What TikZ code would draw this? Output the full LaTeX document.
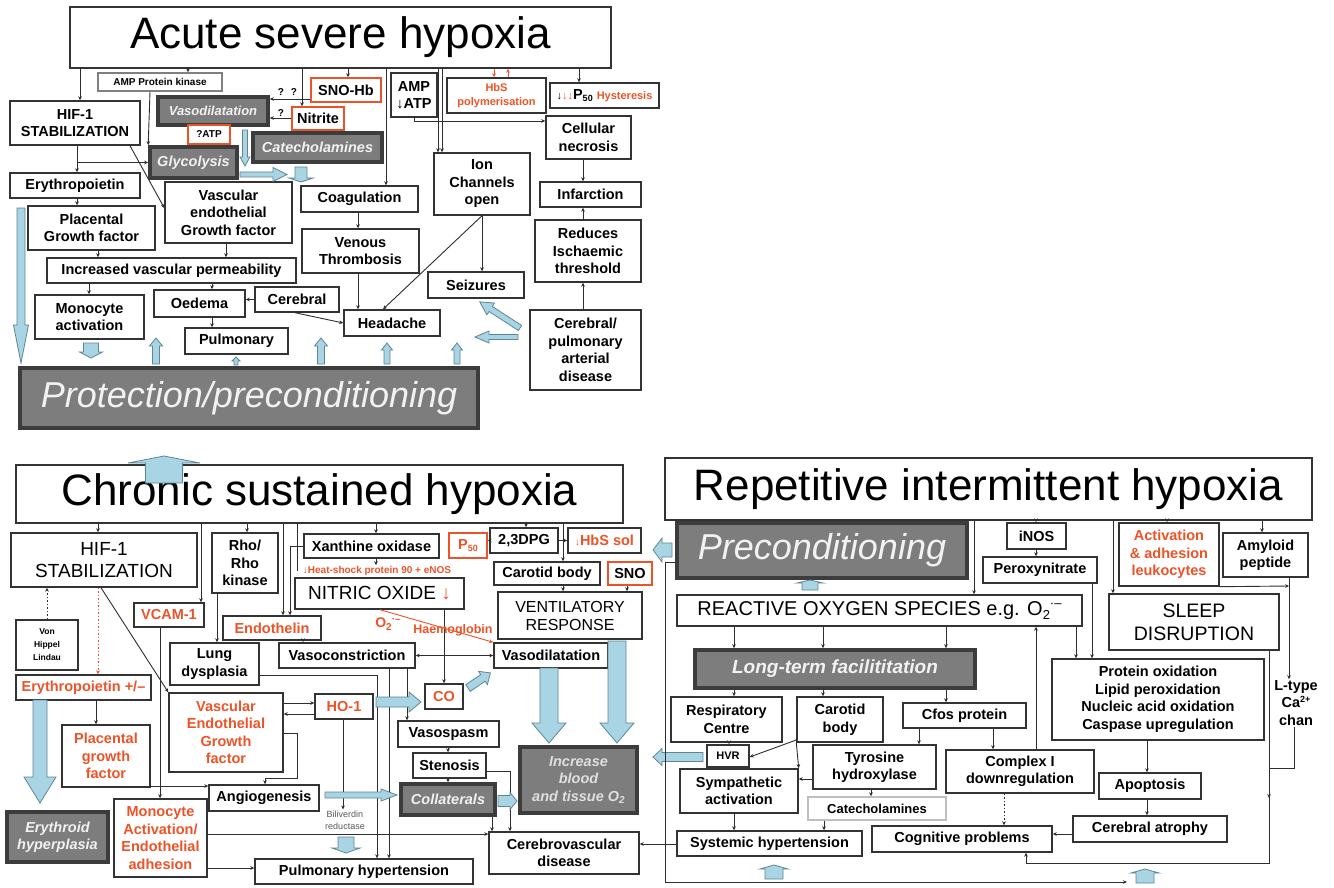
\documentclass[tikz,border=0pt]{standalone}
\usepackage{fontspec}
\setmainfont{Liberation Sans}
\usetikzlibrary{arrows.meta}

\definecolor{linec}{HTML}{2E2E2E}
\definecolor{edgec}{HTML}{333333}
\definecolor{hred}{HTML}{EC5428}
\definecolor{gfill}{HTML}{7D7D7D}
\definecolor{gedge}{HTML}{3C3C3C}
\definecolor{gtext}{HTML}{F2F2F2}
\definecolor{skyf}{HTML}{A9D4E3}
\definecolor{skye}{HTML}{5E8794}

\newcommand{\lowtxt}[2]{\raisebox{-0.35ex}{\fontsize{#1}{#1}\selectfont #2}}
\newcommand{\hightxt}[2]{\raisebox{0.75ex}{\fontsize{#1}{#1}\selectfont #2}}

\tikzset{
  spanbox/.style args={#1/#2/#3/#4}{minimum width={#3-#1}, minimum height={#4-#2}, at={({(#1+#3)/2},{(#2+#4)/2})}},
  box/.style={draw=edgec, line width=1.4pt, fill=white, inner sep=0pt, align=center, text=black, font=\bfseries\fontsize{14.5}{17.5}\selectfont},
  rbox/.style={box, draw=hred},
  redtext/.style={text=hred},
  gbox/.style={box, draw=gedge, line width=3.6pt, fill=gfill, text=gtext, font=\bfseries\itshape\fontsize{14.5}{17.5}\selectfont},
  titlefont/.style={font=\fontsize{44}{48}\selectfont},
  capsfont/.style={font=\fontsize{19}{22}\selectfont},
  tinyfont/.style={font=\bfseries\fontsize{10}{12}\selectfont},
  conn/.style={draw=linec, line width=0.9pt, -{Stealth[length=4pt,width=3.6pt]}},
  rconn/.style={conn, draw=hred},
  dotconn/.style={conn, dash pattern=on 1.5pt off 2pt},
  rdotconn/.style={dotconn, draw=hred},
  plainline/.style={draw=linec, line width=0.9pt},
  pics/barrow/.style n args={4}{code={
    \filldraw[fill=skyf, draw=skye, line width=0.8pt] (0,-#2) -- (#1-#4,-#2) -- (#1-#4,-#3) -- (#1,0) -- (#1-#4,#3) -- (#1-#4,#2) -- (0,#2) -- cycle;}},
}

\begin{document}
\begin{tikzpicture}[x=1pt,y=-1pt]
\fill[white] (0,0) rectangle (1334,888);
\useasboundingbox (0,0) rectangle (1334,888);

\node[box, titlefont, spanbox=70/7/611/68] (acute) {Acute severe hypoxia};
\node[box, tinyfont, draw=gray, spanbox=98/73/222/91] (ampk) {AMP Protein kinase};
\node[box, spanbox=10/101/140/145] (hifa) {HIF-1\\STABILIZATION};
\node[gbox, font=\bfseries\itshape\fontsize{13}{15}\selectfont, spanbox=158/97/268/125] (vasoa) {Vasodilatation};
\node[rbox, spanbox=311/78/381/102] (snohb) {SNO-Hb};
\node[rbox, spanbox=292/107/344/130] (nitrite) {Nitrite};
\node[rbox, tinyfont, spanbox=188/125/230/144] (atpq) {?ATP};
\node[gbox, spanbox=253/133/382/162] (catea) {Catecholamines};
\node[gbox, spanbox=150/147/237/178] (glyco) {Glycolysis};
\node[box, spanbox=391/73/437/117] (ampatp) {AMP\\↓ATP};
\node[box, redtext, font=\bfseries\fontsize{11}{14}\selectfont, spanbox=447/78/546/113] (hbspol) {HbS\\polymerisation};
\node[box, spanbox=550/83/659/108] (pfifty) {{\fontsize{11}{11}\selectfont ↓\textcolor{hred}{↓↓}}P\lowtxt{9}{50} {\color{hred}\fontsize{11}{11}\selectfont Hysteresis}};
\node[box, spanbox=546/116/631/159] (necro) {Cellular\\necrosis};
\node[box, spanbox=434/153/530/215] (ionch) {Ion\\Channels\\open};
\node[box, spanbox=540/182/641/207] (infarct) {Infarction};
\node[box, spanbox=535/220/641/282] (reduces) {Reduces\\Ischaemic\\threshold};
\node[box, spanbox=428/272/524/298] (seiz) {Seizures};
\node[box, spanbox=530/310/641/390] (cerpul) {Cerebral/\\pulmonary\\arterial\\disease};
\node[box, spanbox=10/173/140/198] (erya) {Erythropoietin};
\node[box, spanbox=28/206/155/250] (placa) {Placental\\Growth factor};
\node[box, spanbox=165/182/292/243] (vegfa) {Vascular\\endothelial\\Growth factor};
\node[box, spanbox=301/186/418/212] (coag) {Coagulation};
\node[box, spanbox=302/229/419/273] (venous) {Venous\\Thrombosis};
\node[box, spanbox=47/258/296/283] (perm) {Increased vascular permeability};
\node[box, spanbox=35/295/144/339] (monoa) {Monocyte\\activation};
\node[box, spanbox=154/290/245/317] (oedema) {Oedema};
\node[box, spanbox=255/287/339/312] (cereb) {Cerebral};
\node[box, spanbox=344/310/440/336] (headache) {Headache};
\node[box, spanbox=185/328/288/354] (pulmo) {Pulmonary};
\node[gbox, font=\itshape\fontsize{36}{40}\selectfont, spanbox=20/368/478/428] (protect) {Protection/preconditioning};
\node[tinyfont, inner sep=0pt] (qa) at (281,92) {?};
\node[tinyfont, inner sep=0pt] (qb) at (294,92) {?};
\node[tinyfont, inner sep=0pt] (qc) at (281,113) {?};

\draw[conn] (acute.south -| 80,0) -- (hifa.north -| 80,0);
\draw[conn] (acute.south -| 188,0) -- (ampk.north -| 188,0);
\draw[conn] (acute.south -| 348,0) -- (snohb.north -| 348,0);
\draw[conn] (acute.south -| 302,0) -- (nitrite.north -| 302,0);
\draw[conn] (acute.south -| 386,0) -- (coag.north -| 386,0);
\draw[conn] (acute.south -| 438,0) -- (ionch.north -| 438,0);
\draw[conn] (acute.south -| 442,0) -- (ionch.north -| 442,0);
\draw[conn] (acute.south -| 579,0) -- (pfifty.north -| 579,0);
\draw[rconn] (acute.south -| 494,0) -- (hbspol.north -| 494,0);
\draw[rconn] (hbspol.north -| 508,0) -- (acute.south -| 508,0);
\draw[conn] (ampk.south -| 150,0) -- (glyco.north west);
\draw[conn] (snohb.west |- 0,99) -- (vasoa.east |- 0,99);
\draw[conn] (nitrite.west |- 0,118) -- (vasoa.east |- 0,118);
\draw[conn] (hifa.south -| 77,0) |- (glyco.west);
\draw[conn] (hifa.south -| 77,0) -- (erya.north -| 77,0);
\draw[conn] (hifa.south -| 130,0) -- (vegfa.west |- 0,208);
\draw[conn] (ampatp.south) |- (necro.west |- 0,121);
\draw[conn] (necro.south -| 583,0) -- (infarct.north -| 583,0);
\draw[conn] (reduces.north -| 583,0) -- (infarct.south -| 583,0);
\draw[conn] (cerpul.north -| 583,0) -- (reduces.south -| 583,0);
\draw[conn] (ionch.south -| 482,0) -- (seiz.north -| 482,0);
\draw[conn] (ionch.south -| 482,0) -- (headache.north -| 383,0);
\draw[conn] (coag.south -| 358,0) -- (venous.north -| 358,0);
\draw[conn] (venous.south -| 358,0) -- (headache.north -| 358,0);
\draw[conn] (cereb.south -| 295,0) -- (headache.west |- 0,323);
\draw[conn] (cereb.west) -- (oedema.east |- cereb.west);
\draw[conn] (vegfa.south -| 226,0) -- (perm.north -| 226,0);
\draw[conn] (placa.south -| 98,0) -- (perm.north -| 98,0);
\draw[conn] (erya.south -| 77,0) -- (placa.north -| 77,0);
\draw[conn] (perm.south -| 89,0) -- (monoa.north -| 89,0);
\draw[conn] (perm.south -| 212,0) -- (oedema.north -| 212,0);
\draw[conn] (oedema.south -| 212,0) -- (pulmo.north -| 212,0);

\pic[rotate=-90] at (21,208) {barrow={155}{4}{7.5}{38}};
\pic[rotate=-90] at (91,343) {barrow={15}{7.5}{11.5}{6}};
\pic[rotate=90] at (156,364) {barrow={26}{3.5}{6.5}{8}};
\pic[rotate=90] at (236,365) {barrow={8}{2}{4}{4}};
\pic[rotate=90] at (321,364) {barrow={26}{3.5}{6.5}{8}};
\pic[rotate=90] at (387,364) {barrow={21}{3}{5.5}{7}};
\pic[rotate=90] at (457,364) {barrow={21}{3}{5.5}{7}};
\pic[rotate=147] at (520,328) {barrow={48}{3}{7}{13}};
\pic[rotate=180] at (518,337) {barrow={43}{2.5}{6}{14}};
\pic[rotate=-90] at (245,130) {barrow={36}{2.5}{5}{9}};
\pic at (240,174.5) {barrow={47}{2.5}{7}{14}};
\pic[rotate=-90] at (301,167) {barrow={15}{6}{12}{4}};

\node[box, titlefont, spanbox=16/465/623/523] (chronic) {Chronic sustained hypoxia};
\node[box, capsfont, spanbox=11/533/197/587] (hifb) {HIF-1\\STABILIZATION};
\node[box, spanbox=212/533/278/593] (rho) {Rho/\\Rho\\kinase};
\node[box, spanbox=304/534/439/558] (xanth) {Xanthine oxidase};
\node[rbox, redtext, spanbox=449/533/487/558] (pfiftyb) {P\lowtxt{9}{50}};
\node[box, spanbox=490/528/558/553] (dpg) {2,3DPG};
\node[box, redtext, spanbox=568/528/641/553] (hbssol) {{\fontsize{10}{10}\selectfont ↓}HbS sol};
\node[redtext, font=\bfseries\fontsize{10}{12}\selectfont, inner sep=1pt] (heat) at (377,571) {↓Heat-shock protein 90 + eNOS};
\node[box, capsfont, spanbox=295/578/464/609] (nitric) {NITRIC OXIDE \textcolor{hred}{\bfseries ↓}};
\node[box, spanbox=494/562/600/585] (carotb) {Carotid body};
\node[rbox, spanbox=608/562/652/585] (sno) {SNO};
\node[box, font=\fontsize{16}{18}\selectfont, spanbox=498/592/642/639] (ventil) {VENTILATORY\\RESPONSE};
\node[box, redtext, spanbox=134/603/204/627] (vcam) {VCAM-1};
\node[box, redtext, spanbox=223/616/321/640] (endo) {Endothelin};
\node[box, font=\bfseries\fontsize{8.5}{13}\selectfont, spanbox=16/620/78/670] (vhl) {Von\\Hippel\\Lindau};
\node[box, spanbox=170/643/259/685] (lung) {Lung\\dysplasia};
\node[box, spanbox=279/643/415/668] (vasocon) {Vasoconstriction};
\node[box, spanbox=494/643/608/668] (vasodilb) {Vasodilatation};
\node[box, redtext, spanbox=16/675/151/700] (eryb) {Erythropoietin +/–};
\node[box, redtext, spanbox=169/693/283/772] (vegfb) {Vascular\\Endothelial\\Growth\\factor};
\node[box, redtext, spanbox=315/694/373/719] (hob) {HO-1};
\node[box, redtext, spanbox=425/684/463/709] (co) {CO};
\node[box, spanbox=398/721/499/747] (vasosp) {Vasospasm};
\node[box, spanbox=413/753/486/778] (steno) {Stenosis};
\node[gbox, spanbox=401/784/495/815] (collat) {Collaterals};
\node[gbox, text=gray!25, spanbox=520/747/637/813] (increase) {Increase\\blood\\and tissue O\lowtxt{10}{2}};
\node[box, redtext, spanbox=62/725/150/787] (placb) {Placental\\growth\\factor};
\node[box, spanbox=209/785/319/811] (angio) {Angiogenesis};
\node[text=gray!70!black, font=\fontsize{9}{12}\selectfont, align=center, inner sep=1pt] (bili) at (345,820) {Biliverdin\\reductase};
\node[gbox, spanbox=7/812/108/862] (erythroid) {Erythroid\\hyperplasia};
\node[box, redtext, spanbox=114/799/207/877] (monob) {Monocyte\\Activation/\\Endothelial\\adhesion};
\node[box, spanbox=255/859/473/884] (pulmhyp) {Pulmonary hypertension};
\node[box, spanbox=489/832/639/874] (cerebro) {Cerebrovascular\\disease};

\draw[conn] (chronic.south -| 98,0) -- (hifb.north -| 98,0);
\draw[conn] (chronic.south -| 247,0) -- (rho.north -| 247,0);
\draw[conn] (chronic.south -| 376,0) -- (xanth.north -| 376,0);
\draw[conn] (chronic.south -| 201,0) -- (vcam.north -| 201,0);
\draw[conn] (chronic.south -| 283,0) -- (endo.north -| 283,0);
\draw[conn] (xanth.west) -| (endo.north -| 290,0);
\draw[plainline] (chronic.south -| 297,0) -- (heat.west -| 297,0);
\draw[conn] (xanth.south -| 376,0) -- (heat.north -| 376,0);
\draw[conn] (chronic.south -| 526,0) -- (dpg.north -| 526,0);
\draw[conn] (dpg.west) -- (pfiftyb.east |- dpg.west);
\draw[conn] (dpg.east) -- (hbssol.west |- dpg.east);
\draw[conn] (chronic.south -| 563,0) -- (carotb.north -| 563,0);
\draw[conn] (carotb.south -| 563,0) -- (ventil.north -| 563,0);
\draw[conn] (sno.south -| 627,0) -- (ventil.north -| 627,0);
\draw[conn] (nitric.south -| 444,0) -- (co.north -| 444,0);
\draw[conn] (nitric.south -| 444,0) |- (vasocon.east);
\draw[conn] (nitric.south -| 444,0) |- (vasodilb.west);
\draw[rconn] (nitric.south -| 380,0) -- (vasodilb.north west);
\draw[conn] (endo.south -| 303,0) -- (vasocon.north -| 303,0);
\draw[conn] (rho.south -| 217,0) -- (lung.north -| 217,0);
\draw[conn] (hifb.south -| 101,0) -- (vegfb.north west);
\draw[rdotconn] (hifb.south -| 98,0) -- (eryb.north -| 98,0);
\draw[dotconn] (vhl.north -| 47,0) -- (hifb.south -| 47,0);
\draw[conn] (eryb.south -| 96,0) -- (placb.north -| 96,0);
\draw[conn] (vcam.south -| 160,0) -- (monob.north -| 160,0);
\draw[conn] (vegfb.east |- 0,703) -- (hob.west |- 0,703);
\draw[conn] (hob.west |- 0,714) -- (vegfb.east |- 0,714);
\draw[conn] (vegfb.east |- 0,733) -| (297,778) -| (angio.north -| 265,0);
\draw[conn] (placb.east |- 0,786) -- (angio.west |- 0,786);
\draw[conn] (hob.south -| 343,0) -- (bili.north -| 343,0);
\draw[conn] (lung.east |- 0,675) -| (pulmhyp.north -| 377,0);
\draw[conn] (vasocon.south -| 389,0) -- (pulmhyp.north -| 389,0);
\draw[conn] (vasocon.south -| 407,0) -- (vasosp.north -| 407,0);
\draw[conn] (vasosp.south -| 448,0) -- (steno.north -| 448,0);
\draw[conn] (steno.south -| 448,0) -- (collat.north -| 448,0);
\draw[conn] (steno.east |- 0,771) -| (cerebro.north -| 510,0);
\draw[conn] (collat.south -| 492,0) -- (cerebro.north -| 492,0);
\draw[conn] (monob.east |- 0,834) -- (cerebro.west |- 0,834);
\draw[conn] (monob.east |- 0,868) -- (pulmhyp.west |- 0,868);

\node[redtext, font=\bfseries\fontsize{14}{16}\selectfont, inner sep=0pt] (otwo) at (388,624) {O\lowtxt{10}{2}\hightxt{10}{·–}};
\node[redtext, font=\bfseries\fontsize{12.5}{14}\selectfont, inner sep=0pt] (haemo) at (453,630) {Haemoglobin};

\pic[rotate=90] at (164,483) {barrow={27}{18.5}{36}{7}};
\pic[rotate=-90] at (40,700) {barrow={103}{7}{16}{26}};
\pic at (376,702) {barrow={45}{5}{10}{12}};
\pic[rotate=34] at (468,688) {barrow={27}{4}{8}{9}};
\pic at (325,795) {barrow={72}{3}{6}{16}};
\pic at (498,801) {barrow={19}{5.5}{8.5}{7}};
\pic[rotate=-90] at (549,668) {barrow={75}{9}{17}{20}};
\pic[rotate=-90] at (617,641) {barrow={102}{9}{17}{20}};
\pic[rotate=-90] at (346,837) {barrow={16}{8}{14}{5}};
\pic[rotate=180] at (672,550) {barrow={19}{7}{12}{9}};
\pic[rotate=180] at (703,757) {barrow={50}{4.5}{8.5}{9}};

\node[box, titlefont, spanbox=665/458/1312/520] (repet) {Repetitive intermittent hypoxia};
\node[gbox, font=\itshape\fontsize{36}{40}\selectfont, spanbox=677/523/967/578] (precond) {Preconditioning};
\node[box, font=\fontsize{20}{22}\selectfont, spanbox=677/595/1082/626] (ros) {REACTIVE OXYGEN SPECIES e.g. O\lowtxt{13}{2}\hightxt{13}{·–}};
\node[box, spanbox=1007/523/1066/549] (inos) {iNOS};
\node[box, spanbox=983/557/1097/583] (peroxy) {Peroxynitrate};
\node[box, redtext, spanbox=1119/523/1219/586] (activ) {Activation\\\& adhesion\\leukocytes};
\node[box, spanbox=1223/533/1308/577] (amyloid) {Amyloid\\peptide};
\node[box, font=\fontsize{19.5}{23}\selectfont, spanbox=1109/594/1279/650] (sleep) {SLEEP\\DISRUPTION};
\node[gbox, font=\bfseries\itshape\fontsize{19}{22}\selectfont, spanbox=695/650/975/688] (ltf) {Long-term facilititation};
\node[box, spanbox=671/697/782/742] (resp) {Respiratory\\Centre};
\node[box, spanbox=797/697/883/742] (carotc) {Carotid\\body};
\node[box, spanbox=903/703/1026/728] (cfos) {Cfos protein};
\node[box, font=\bfseries\fontsize{11}{12}\selectfont, spanbox=707/745/749/767] (hvr) {HVR};
\node[box, spanbox=813/745/936/789] (tyro) {Tyrosine\\hydroxylase};
\node[box, spanbox=946/750/1094/793] (complex) {Complex I\\downregulation};
\node[box, spanbox=680/769/798/813] (sympa) {Sympathetic\\activation};
\node[box, draw=gray!50, font=\bfseries\fontsize{13}{15}\selectfont, spanbox=808/797/946/820] (catec) {Catecholamines};
\node[box, spanbox=677/831/862/856] (systemic) {Systemic hypertension};
\node[box, spanbox=872/826/1052/852] (cognit) {Cognitive problems};
\node[box, spanbox=1052/659/1264/740] (protox) {Protein oxidation\\Lipid peroxidation\\Nucleic acid oxidation\\Caspase upregulation};
\node[box, spanbox=1099/773/1201/799] (apopt) {Apoptosis};
\node[box, spanbox=1073/816/1227/842] (atrophy) {Cerebral atrophy};
\node[font=\bfseries\fontsize{14.5}{17.5}\selectfont, align=center, inner sep=1pt] (ltype) at (1296,703) {L-type\\Ca\hightxt{9}{2+}\\chan};
\coordinate (ljoin) at (1289,586);

\draw[conn] (repet.south -| 974,0) -- (ros.north -| 974,0);
\draw[conn] (repet.south -| 1036,0) -- (inos.north -| 1036,0);
\draw[conn] (inos.south -| 1036,0) -- (peroxy.north -| 1036,0);
\draw[conn] (repet.south -| 1167,0) -- (activ.north -| 1167,0);
\draw[conn] (repet.south -| 1262,0) -- (amyloid.north -| 1262,0);
\draw[conn] (repet.south -| 1113,0) -- (sleep.north -| 1113,0);
\draw[conn] (peroxy.south -| 1092,0) -- (protox.north -| 1092,0);
\draw[conn] (ros.south -| 1076,0) -- (protox.north -| 1076,0);
\draw[conn] (activ.south east) -- (ljoin);
\draw[conn] (amyloid.south -| 1289,0) -- (ltype.north -| 1289,0);
\draw[conn] (sleep.south -| 1269,0) -- (1269,863) -| (cognit.south -| 1026,0);
\draw[plainline] (ltype.south -| 1294,0) |- (1269,768);
\draw[conn] (1269,768) -- (1269,798);
\draw[conn] (ros.south -| 734,0) -- (ltf.north -| 734,0);
\draw[conn] (ros.south -| 823,0) -- (ltf.north -| 823,0);
\draw[conn] (ros.south -| 946,0) -- (ltf.north -| 946,0);
\draw[conn] (ltf.south -| 734,0) -- (resp.north -| 734,0);
\draw[conn] (ltf.south -| 823,0) -- (carotc.north -| 823,0);
\draw[conn] (ltf.south -| 946,0) -- (cfos.north -| 946,0);
\draw[conn] (resp.south -| 729,0) -- (hvr.north -| 729,0);
\draw[conn] (carotc.west |- 0,740) -- (hvr.east |- 0,757);
\draw[conn] (carotc.south west) -- (sympa.north east);
\draw[conn] (tyro.west |- 0,779) -- (sympa.east |- 0,779);
\draw[conn] (cfos.south -| 919,0) -- (tyro.north -| 919,0);
\draw[conn] (cfos.south -| 993,0) -- (complex.north -| 993,0);
\draw[conn] (tyro.south -| 871,0) -- (catec.north -| 871,0);
\draw[conn] (sympa.south -| 734,0) -- (systemic.north -| 734,0);
\draw[conn] (catec.south -| 824,0) -- (systemic.north -| 824,0);
\draw[dotconn] (complex.south -| 1004,0) -- (cognit.north -| 1004,0);
\draw[conn] (complex.north -| 1036,0) -- (ros.south -| 1036,0);
\draw[conn] (protox.south -| 1147,0) -- (apopt.north -| 1147,0);
\draw[conn] (apopt.south -| 1147,0) -- (atrophy.north -| 1147,0);
\draw[conn] (atrophy.west |- 0,834) -- (cognit.east |- 0,834);
\draw[conn] (systemic.west |- 0,844) -- (cerebro.east |- 0,844);
\draw[conn] (precond.west |- 0,562) -| (665,882) -- (1127,882);

\pic[rotate=90] at (810,590) {barrow={10}{8}{13}{3}};
\pic[rotate=90] at (774,879) {barrow={14}{9}{14}{4}};
\pic[rotate=90] at (1145,883) {barrow={14}{9}{14}{4}};
\end{tikzpicture}
\end{document}
